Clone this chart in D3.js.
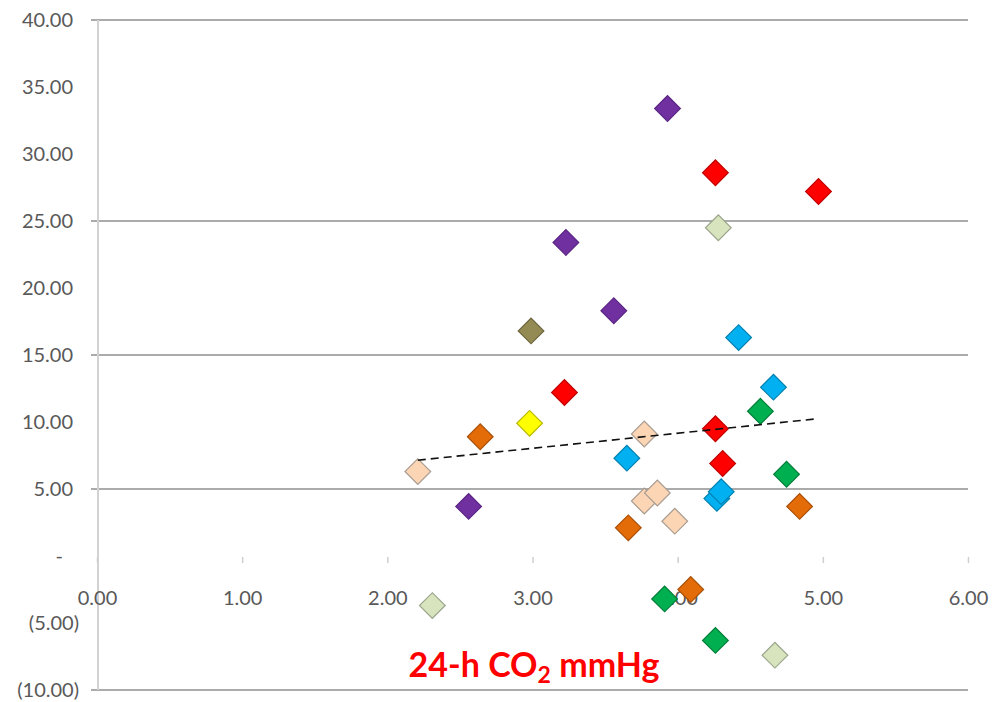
<!DOCTYPE html>
<html>
<head>
<meta charset="utf-8">
<script src="https://cdn.jsdelivr.net/npm/d3@7"></script>
<style>
  html, body { margin: 0; padding: 0; background: #fff; }
  svg { display: block; }
</style>
</head>
<body>
<svg id="chart" width="997" height="702"></svg>
<script>
// ---- data ----
const xTicks = [0, 1, 2, 3, 4, 5, 6];
const yTicks = [40, 35, 30, 25, 20, 15, 10, 5, 0, -5, -10];
const gridValues = [40, 25, 15, 5, -10];

const purpleX = [3.93, 3.23, 3.56, 2.56];
const purpleY = [33.4, 23.4, 18.3, 3.7];
const redX = [4.26, 4.97, 3.22, 4.26, 4.31];
const redY = [28.6, 27.2, 12.2, 9.5, 6.9];
const paleGreenX = [4.28, 2.31, 4.67];
const paleGreenY = [24.5, -3.7, -7.4];
const oliveX = [2.99];
const oliveY = [16.8];
const blueX = [4.42, 4.66, 3.65, 4.27, 4.30];
const blueY = [16.3, 12.6, 7.3, 4.3, 4.8];
const greenX = [4.57, 4.75, 3.91, 4.26];
const greenY = [10.8, 6.1, -3.2, -6.3];
const yellowX = [2.98];
const yellowY = [9.9];
const orangeX = [2.64, 3.66, 4.84, 4.09];
const orangeY = [8.9, 2.1, 3.7, -2.5];
const peachX = [3.77, 2.21, 3.77, 3.86, 3.98];
const peachY = [9.1, 6.3, 4.1, 4.7, 2.6];

const trendX = [2.21, 4.97];
const trendY = [7.15, 10.25];

const xTitle = "24-h CO";
const xTitleSub = "2";
const xTitleRest = " mmHg";

// ---- styles ----
const seriesList = [
  { x: purpleX, y: purpleY, fill: "#7030A0", stroke: "#5B2585" },
  { x: oliveX, y: oliveY, fill: "#948A54", stroke: "#6E6740" },
  { x: yellowX, y: yellowY, fill: "#FFFF00", stroke: "#B8B800" },
  { x: orangeX, y: orangeY, fill: "#E36C09", stroke: "#A94F06" },
  { x: peachX, y: peachY, fill: "#FCD5B5", stroke: "#A89C90" },
  { x: blueX, y: blueY, fill: "#00B0F0", stroke: "#0080B0" },
  { x: greenX, y: greenY, fill: "#00B050", stroke: "#007D39" },
  { x: redX, y: redY, fill: "#FF0000", stroke: "#C00000" },
  { x: paleGreenX, y: paleGreenY, fill: "#D7E4BD", stroke: "#9AA58C" }
];

const svg = d3.select("#chart");
const x = d3.scaleLinear().domain([0, 6]).range([97, 968]);
const y = d3.scaleLinear().domain([-10, 40]).range([690, 20]);

const labelFont = "Lato, 'Open Sans', sans-serif";

// gridlines
svg.append("g").selectAll("line").data(gridValues).join("line")
  .attr("x1", x(0) - 6).attr("x2", x(6))
  .attr("y1", d => y(d)).attr("y2", d => y(d))
  .attr("stroke", "#8f8f8f").attr("stroke-width", 1.6);

// y axis line
svg.append("line")
  .attr("x1", x(0) + 1).attr("x2", x(0) + 1)
  .attr("y1", y(40)).attr("y2", y(-10))
  .attr("stroke", "#d2d2d2").attr("stroke-width", 2);

// y axis labels
const fmtY = d => d === 0 ? "-" : d < 0 ? "(" + d3.format(".2f")(-d) + ")" : d3.format(".2f")(d);
const yAxis = svg.append("g")
  .attr("transform", `translate(${x(0) - 24},0)`)
  .call(d3.axisLeft(y).tickValues(yTicks).tickFormat(fmtY).tickSize(0).tickPadding(0));
yAxis.select(".domain").remove();
yAxis.selectAll("text")
  .attr("font-family", labelFont).attr("font-size", 20).attr("fill", "#595959")
  .attr("x", d => d < 0 ? 6 : d === 0 ? -10 : 0);

// x axis tick marks and labels
const xAxis = svg.append("g")
  .attr("transform", `translate(0,${y(0)})`)
  .call(d3.axisBottom(x).tickValues(xTicks).tickFormat(d3.format(".2f")).tickSize(7).tickPadding(28));
xAxis.select(".domain").remove();
xAxis.selectAll(".tick line").attr("stroke", "#cfcfcf").attr("stroke-width", 1.5)
  .attr("y1", 1);
xAxis.selectAll("text")
  .attr("font-family", labelFont).attr("font-size", 20).attr("fill", "#595959");

// markers
const diamond = d3.symbol().type(d3.symbolSquare).size(330);
seriesList.forEach(s => {
  const pts = s.x.map((v, i) => [v, s.y[i]]);
  svg.append("g").selectAll("path").data(pts).join("path")
    .attr("d", diamond)
    .attr("transform", d => `translate(${x(d[0])},${y(d[1])}) rotate(45)`)
    .attr("fill", s.fill).attr("stroke", s.stroke).attr("stroke-width", 1.2);
});

// trend line
svg.append("line")
  .attr("x1", x(trendX[0])).attr("y1", y(trendY[0]))
  .attr("x2", x(trendX[1])).attr("y2", y(trendY[1]))
  .attr("stroke", "#111").attr("stroke-width", 1.6)
  .attr("stroke-dasharray", "8,5");

// x title
const t = svg.append("text")
  .attr("x", 534).attr("y", 677)
  .attr("text-anchor", "middle")
  .attr("font-family", labelFont).attr("font-weight", "bold")
  .attr("font-size", 34).attr("fill", "#FF0000");
t.append("tspan").text(xTitle);
t.append("tspan").attr("font-size", 23).attr("dy", 6).text(xTitleSub);
t.append("tspan").attr("dy", -6).text(xTitleRest);
</script>
</body>
</html>
